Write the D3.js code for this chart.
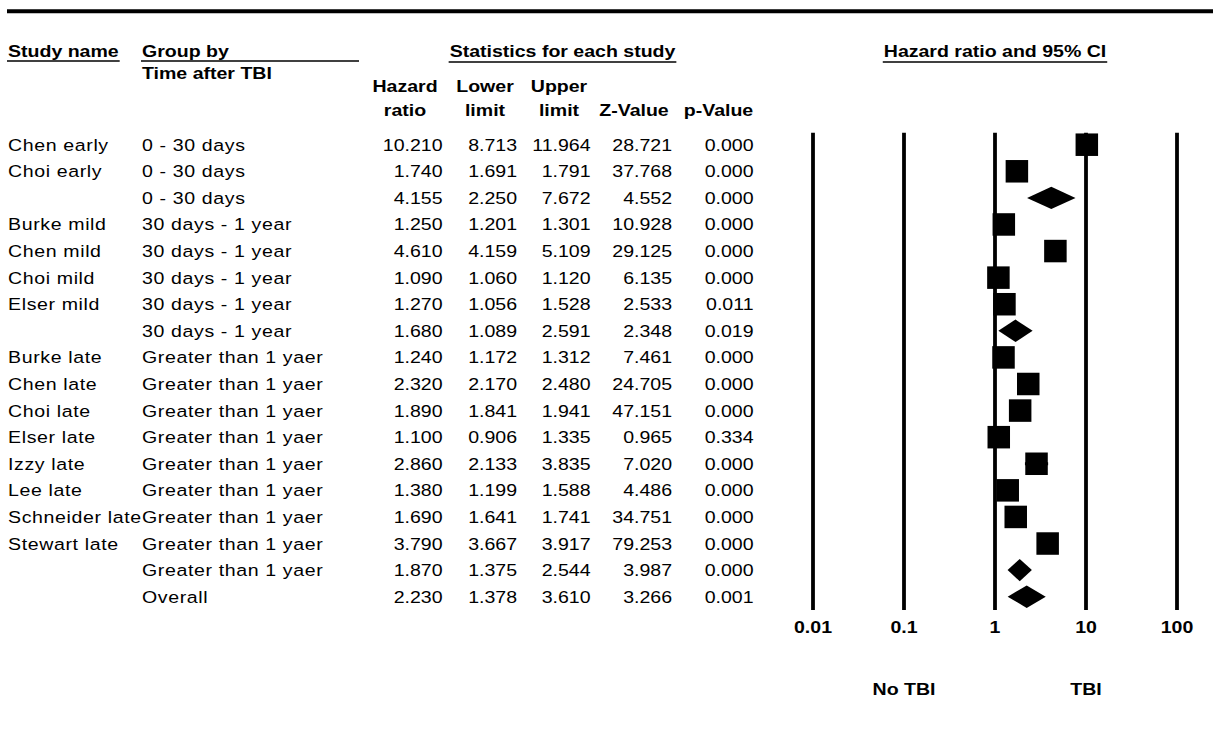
<!DOCTYPE html>
<html>
<head>
<meta charset="utf-8">
<script src="https://cdn.jsdelivr.net/npm/d3@7/dist/d3.min.js"></script>
<style>
  html, body { margin: 0; padding: 0; background: #fff; }
  svg { display: block; }
  text { font-family: "Liberation Sans", Arial, sans-serif; fill: #000; }
</style>
</head>
<body>
<svg id="chart" width="1213" height="752"></svg>
<script>
// Study rows of the forest plot
const studyNames = ["Chen early", "Choi early", "", "Burke mild", "Chen mild", "Choi mild", "Elser mild", "",
  "Burke late", "Chen late", "Choi late", "Elser late", "Izzy late", "Lee late", "Schneider late", "Stewart late", "", ""];
const groups = ["0 - 30 days", "0 - 30 days", "0 - 30 days",
  "30 days - 1 year", "30 days - 1 year", "30 days - 1 year", "30 days - 1 year", "30 days - 1 year",
  "Greater than 1 yaer", "Greater than 1 yaer", "Greater than 1 yaer", "Greater than 1 yaer", "Greater than 1 yaer",
  "Greater than 1 yaer", "Greater than 1 yaer", "Greater than 1 yaer", "Greater than 1 yaer", "Overall"];
const hazardRatio = [10.210, 1.740, 4.155, 1.250, 4.610, 1.090, 1.270, 1.680, 1.240, 2.320, 1.890, 1.100, 2.860, 1.380, 1.690, 3.790, 1.870, 2.230];
const lowerLimit  = [8.713, 1.691, 2.250, 1.201, 4.159, 1.060, 1.056, 1.089, 1.172, 2.170, 1.841, 0.906, 2.133, 1.199, 1.641, 3.667, 1.375, 1.378];
const upperLimit  = [11.964, 1.791, 7.672, 1.301, 5.109, 1.120, 1.528, 2.591, 1.312, 2.480, 1.941, 1.335, 3.835, 1.588, 1.741, 3.917, 2.544, 3.610];
const zValue      = [28.721, 37.768, 4.552, 10.928, 29.125, 6.135, 2.533, 2.348, 7.461, 24.705, 47.151, 0.965, 7.020, 4.486, 34.751, 79.253, 3.987, 3.266];
const pValue      = [0.000, 0.000, 0.000, 0.000, 0.000, 0.000, 0.011, 0.019, 0.000, 0.000, 0.000, 0.334, 0.000, 0.000, 0.000, 0.000, 0.000, 0.001];
// summary rows are drawn as diamonds
const isSummary   = [false, false, true, false, false, false, false, true, false, false, false, false, false, false, false, false, true, true];
const axisTicks = [0.01, 0.1, 1, 10, 100];
const axisTickLabels = ["0.01", "0.1", "1", "10", "100"];
const favourLabels = [{ at: 0.1, text: "No TBI" }, { at: 10, text: "TBI" }];

const rows = studyNames.map((name, i) => ({
  name, group: groups[i], hr: hazardRatio[i], lo: lowerLimit[i], hi: upperLimit[i],
  z: zValue[i], p: pValue[i], summary: isSummary[i]
}));

const svg = d3.select("#chart");
const SX = 1.15;          // horizontal stretch of the typeface
const FS = 17;

function label(g, x, y, txt, opts = {}) {
  return g.append("text")
    .attr("transform", `translate(${x},${y}) scale(${SX},1)`)
    .attr("text-anchor", opts.anchor || "start")
    .style("font-size", (opts.size || FS) + "px")
    .style("font-weight", opts.bold ? "bold" : "normal")
    .style("letter-spacing", (opts.spacing || 0) + "px")
    .text(txt);
}

function underline(g, textSel, y) {
  const w = textSel.node().getComputedTextLength() * SX;
  const t = textSel.attr("transform").match(/translate\(([-\d.]+),/);
  const x0 = +t[1];
  const anchor = textSel.attr("text-anchor");
  const start = anchor === "middle" ? x0 - w / 2 : anchor === "end" ? x0 - w : x0;
  g.append("line").attr("x1", start - 1).attr("x2", start + w + 1)
    .attr("y1", y).attr("y2", y).attr("stroke", "#000").attr("stroke-width", 1.6);
}

// scales
const x = d3.scaleLog().domain([0.01, 100]).range([813, 1177]);
const y = d3.scalePoint().domain(d3.range(rows.length)).range([144.7, 596.7]);

// heavy rule across the top
svg.append("line").attr("x1", 7).attr("x2", 1213).attr("y1", 11.3).attr("y2", 11.3)
  .attr("stroke", "#000").attr("stroke-width", 4);

// header
const head = svg.append("g");
const tStudy = label(head, 8, 56.5, "Study name", { bold: true });
underline(head, tStudy, 61);
label(head, 142, 56.5, "Group by", { bold: true });
head.append("line").attr("x1", 141).attr("x2", 359).attr("y1", 61).attr("y2", 61)
  .attr("stroke", "#000").attr("stroke-width", 1.6);
label(head, 142, 79, "Time after TBI", { bold: true });
const tStats = label(head, 562.5, 56.5, "Statistics for each study", { bold: true, anchor: "middle" });
underline(head, tStats, 62);
const tCI = label(head, x(1), 56.5, "Hazard ratio and 95% CI", { bold: true, anchor: "middle" });
underline(head, tCI, 62);

const colHeads = [
  { cx: 405, l1: "Hazard", l2: "ratio" },
  { cx: 485, l1: "Lower", l2: "limit" },
  { cx: 559, l1: "Upper", l2: "limit" },
  { cx: 634, l1: "", l2: "Z-Value" },
  { cx: 718.5, l1: "", l2: "p-Value" }
];
colHeads.forEach(c => {
  if (c.l1) label(head, c.cx, 91.7, c.l1, { bold: true, anchor: "middle" });
  label(head, c.cx, 116, c.l2, { bold: true, anchor: "middle" });
});

// table body
const body = svg.append("g");
const numCols = [
  { key: "hr", right: 442.5 },
  { key: "lo", right: 517 },
  { key: "hi", right: 590.5 },
  { key: "z", right: 672 },
  { key: "p", right: 753.5 }
];
rows.forEach((r, i) => {
  const by = y(i) + 6;
  if (r.name) label(body, 8, by, r.name, { spacing: 0.55 });
  label(body, 142, by, r.group, { spacing: 0.55 });
  numCols.forEach(c => label(body, c.right, by, r[c.key].toFixed(3), { anchor: "end" }));
});

// plot: reference lines at each decade
const plot = svg.append("g");
plot.selectAll("line.ref").data(axisTicks).join("line")
  .attr("class", "ref")
  .attr("x1", d => x(d)).attr("x2", d => x(d))
  .attr("y1", 132.7).attr("y2", 610)
  .attr("stroke", "#000").attr("stroke-width", 3.8);

axisTicks.forEach((t, i) => label(plot, x(t), 633, axisTickLabels[i], { bold: true, anchor: "middle" }));
favourLabels.forEach(f => label(plot, x(f.at), 695, f.text, { bold: true, anchor: "middle" }));

// confidence intervals
const studies = rows.map((r, i) => ({ ...r, i })).filter(r => !r.summary);
const summaries = rows.map((r, i) => ({ ...r, i })).filter(r => r.summary);

plot.selectAll("line.ci").data(studies).join("line")
  .attr("class", "ci")
  .attr("x1", d => x(d.lo)).attr("x2", d => x(d.hi))
  .attr("y1", d => y(d.i)).attr("y2", d => y(d.i))
  .attr("stroke", "#000").attr("stroke-width", 3);

const box = 22.5;
plot.selectAll("rect.est").data(studies).join("rect")
  .attr("class", "est")
  .attr("x", d => x(d.hr) - box / 2).attr("y", d => y(d.i) - box / 2)
  .attr("width", box).attr("height", box)
  .attr("fill", "#000");

const dh = 11.2;
plot.selectAll("path.sum").data(summaries).join("path")
  .attr("class", "sum")
  .attr("d", d => {
    const cy = y(d.i);
    return `M${x(d.lo)},${cy} L${x(d.hr)},${cy - dh} L${x(d.hi)},${cy} L${x(d.hr)},${cy + dh} Z`;
  })
  .attr("fill", "#000");
</script>
</body>
</html>
